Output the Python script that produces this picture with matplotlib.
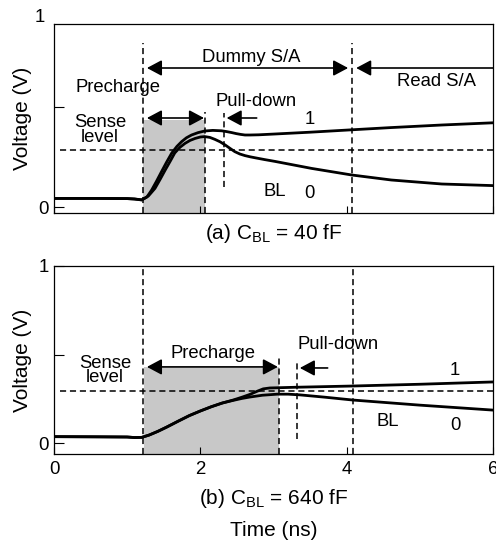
import matplotlib
matplotlib.use("Agg")
import matplotlib.pyplot as plt

plt.rcParams['font.family'] = ['Liberation Sans', 'DejaVu Sans']
plt.rcParams['mathtext.fontset'] = 'custom'
plt.rcParams['mathtext.rm'] = 'Liberation Sans'
plt.rcParams['mathtext.it'] = 'Liberation Sans'

# ---------------- data ----------------
# (a) C_BL = 40 fF
t_a1 = [0.0, 0.6, 1.0, 1.1, 1.2, 1.27, 1.335, 1.40, 1.47, 1.54, 1.61, 1.68, 1.745, 1.81, 1.88, 1.97, 2.06, 2.17, 2.29, 2.36, 2.43, 2.49, 2.55, 2.61, 2.68, 2.8, 3.02, 3.5, 4.07, 4.6, 5.3, 6.0]
v_a1 = [0.043, 0.043, 0.042, 0.040, 0.036, 0.050, 0.085, 0.128, 0.177, 0.225, 0.270, 0.303, 0.327, 0.346, 0.360, 0.372, 0.380, 0.383, 0.381, 0.377, 0.372, 0.367, 0.363, 0.360, 0.360, 0.361, 0.365, 0.374, 0.386, 0.397, 0.410, 0.421]
t_a0 = [0.0, 0.6, 1.0, 1.1, 1.2, 1.29, 1.38, 1.45, 1.52, 1.59, 1.65, 1.72, 1.79, 1.86, 1.93, 2.00, 2.06, 2.13, 2.20, 2.27, 2.34, 2.41, 2.47, 2.54, 2.61, 2.68, 2.75, 2.88, 3.02, 3.52, 4.07, 4.61, 5.3, 6.0]
v_a0 = [0.043, 0.043, 0.042, 0.040, 0.035, 0.055, 0.093, 0.138, 0.185, 0.230, 0.270, 0.298, 0.318, 0.333, 0.343, 0.350, 0.352, 0.348, 0.338, 0.326, 0.310, 0.292, 0.277, 0.265, 0.257, 0.251, 0.246, 0.237, 0.228, 0.193, 0.160, 0.135, 0.115, 0.107]

# (b) C_BL = 640 fF
t_b1 = [0.0, 0.6, 1.0, 1.1, 1.2, 1.3, 1.42, 1.54, 1.7, 1.85, 2.0, 2.15, 2.3, 2.45, 2.57, 2.68, 2.78, 2.86, 2.95, 3.3, 4.08, 5.0, 6.0]
v_b1 = [0.036, 0.035, 0.034, 0.031, 0.032, 0.045, 0.066, 0.090, 0.124, 0.155, 0.181, 0.205, 0.226, 0.243, 0.259, 0.275, 0.293, 0.306, 0.311, 0.315, 0.322, 0.332, 0.345]
t_b0 = [0.0, 0.6, 1.0, 1.1, 1.2, 1.3, 1.42, 1.54, 1.7, 1.85, 2.0, 2.15, 2.3, 2.45, 2.57, 2.68, 2.85, 3.05, 3.2, 3.36, 3.7, 4.08, 5.0, 6.0]
v_b0 = [0.036, 0.035, 0.034, 0.031, 0.032, 0.045, 0.066, 0.090, 0.124, 0.155, 0.181, 0.205, 0.226, 0.241, 0.252, 0.260, 0.270, 0.276, 0.276, 0.272, 0.259, 0.243, 0.214, 0.186]

x_ticks = [0, 2, 4, 6]
x_ticklabels = ['0', '2', '4', '6']
sense_level = [0.285, 0.292]
captions = [r'(a) C$_{\mathrm{BL}}$ = 40 fF', r'(b) C$_{\mathrm{BL}}$ = 640 fF']

# ---------------- figure ----------------
fig = plt.figure(figsize=(4.96, 5.42), dpi=100)
ax1 = fig.add_axes([54/496, 1-213/542, 439/496, 189/542])
ax2 = fig.add_axes([54/496, 1-454/542, 439/496, 188/542])

dash = (0, (4, 2.5))
dlw = 1.1
grey = '#c8c8c8'
fs_ann = 13.3
fs_lab = 15

def arrow(ax, x0, x1, y, both=True):
    style = '<|-|>' if both else '-|>'
    ax.annotate('', xy=(x1, y), xytext=(x0, y), xycoords='data',
                arrowprops=dict(arrowstyle=style + ',head_length=9,head_width=4.8',
                                mutation_scale=1, color='black', lw=1.2,
                                shrinkA=0, shrinkB=0), annotation_clip=False)

for ax in (ax1, ax2):
    ax.set_xlim(0, 6)
    ax.set_xticks(x_ticks)
    ax.tick_params(axis='x', direction='in', length=5, width=0.8, pad=5, labelsize=13.4)
    ax.tick_params(axis='y', direction='in', length=7, width=0.8, pad=4, labelsize=13.4)
    for s in ax.spines.values():
        s.set_linewidth(0.9)
    ax.set_ylabel('Voltage (V)', fontsize=fs_lab)
    ax.yaxis.set_label_coords(-0.05, 0.5)

# ---- panel (a) ----
ax1.set_ylim(-0.03, 0.915)
ax1.set_yticks([0, 0.5])
ax1.set_yticklabels(['0', ''])
ax1.set_xticklabels([])
ax1.text(-0.02, 0.95, '1', transform=ax1.get_yaxis_transform(), ha='right', va='center',
         fontsize=13.4, clip_on=False)
ax1.fill_between([1.22, 2.06], -0.03, 0.435, color=grey, lw=0, zorder=1)
ax1.plot([0.08, 6], [sense_level[0]] * 2, color='black', lw=dlw, ls=dash, zorder=2)
ax1.plot([1.22, 1.22], [-0.03, 0.82], color='black', lw=dlw, ls=dash, zorder=2)
ax1.plot([4.07, 4.07], [-0.03, 0.82], color='black', lw=dlw, ls=dash, zorder=2)
ax1.plot([2.06, 2.06], [-0.03, 0.475], color='black', lw=dlw, ls=dash, zorder=2)
ax1.plot([2.32, 2.32], [0.10, 0.47], color='black', lw=dlw, ls=dash, zorder=2)
ax1.plot(t_a1, v_a1, color='black', lw=2.0, zorder=3, solid_joinstyle='round')
ax1.plot(t_a0, v_a0, color='black', lw=2.0, zorder=3, solid_joinstyle='round')

arrow(ax1, 1.27, 4.02, 0.695)
arrow(ax1, 6.0, 4.13, 0.695, both=False)
arrow(ax1, 1.27, 2.05, 0.445)
arrow(ax1, 2.77, 2.36, 0.445, both=False)
ax1.text(2.69, 0.75, 'Dummy S/A', ha='center', va='center', fontsize=fs_ann)
ax1.text(5.23, 0.625, 'Read S/A', ha='center', va='center', fontsize=fs_ann)
ax1.text(0.875, 0.60, 'Precharge', ha='center', va='center', fontsize=fs_ann)
ax1.text(2.76, 0.53, 'Pull-down', ha='center', va='center', fontsize=fs_ann)
ax1.text(0.63, 0.385, 'Sense\nlevel', ha='center', va='center', fontsize=fs_ann, linespacing=0.78)
ax1.text(3.5, 0.44, '1', ha='center', va='center', fontsize=fs_ann)
ax1.text(3.02, 0.08, 'BL', ha='center', va='center', fontsize=fs_ann)
ax1.text(3.49, 0.07, '0', ha='center', va='center', fontsize=fs_ann)

# ---- panel (b) ----
ax2.set_ylim(-0.062, 1.0)
ax2.set_yticks([0, 0.5, 1])
ax2.set_yticklabels(['0', '', '1'])
ax2.set_xticklabels(x_ticklabels)
ax2.fill_between([1.23, 3.07], -0.062, 0.43, color=grey, lw=0, zorder=1)
ax2.plot([0.08, 6], [sense_level[1]] * 2, color='black', lw=dlw, ls=dash, zorder=2)
ax2.plot([1.22, 1.22], [-0.062, 1.0], color='black', lw=dlw, ls=dash, zorder=2)
ax2.plot([4.08, 4.08], [-0.062, 1.0], color='black', lw=dlw, ls=dash, zorder=2)
ax2.plot([3.07, 3.07], [-0.062, 0.48], color='black', lw=dlw, ls=dash, zorder=2)
ax2.plot([3.32, 3.32], [0.02, 0.47], color='black', lw=dlw, ls=dash, zorder=2)
ax2.plot(t_b1, v_b1, color='black', lw=2.0, zorder=3, solid_joinstyle='round')
ax2.plot(t_b0, v_b0, color='black', lw=2.0, zorder=3, solid_joinstyle='round')

arrow(ax2, 1.27, 3.06, 0.43)
arrow(ax2, 3.74, 3.36, 0.424, both=False)
ax2.text(2.17, 0.508, 'Precharge', ha='center', va='center', fontsize=fs_ann)
ax2.text(3.88, 0.554, 'Pull-down', ha='center', va='center', fontsize=fs_ann)
ax2.text(0.70, 0.41, 'Sense\nlevel', ha='center', va='center', fontsize=fs_ann, linespacing=0.78)
ax2.text(5.48, 0.41, '1', ha='center', va='center', fontsize=fs_ann)
ax2.text(4.56, 0.119, 'BL', ha='center', va='center', fontsize=fs_ann)
ax2.text(5.48, 0.10, '0', ha='center', va='center', fontsize=fs_ann)

fig.text(273.5/496, 1-233/542, captions[0], ha='center', va='center', fontsize=fs_lab)
fig.text(273.5/496, 1-498/542, captions[1], ha='center', va='center', fontsize=fs_lab)
fig.text(273.5/496, 1-530/542, 'Time (ns)', ha='center', va='center', fontsize=fs_lab)

fig.savefig('out.png', dpi=100)
